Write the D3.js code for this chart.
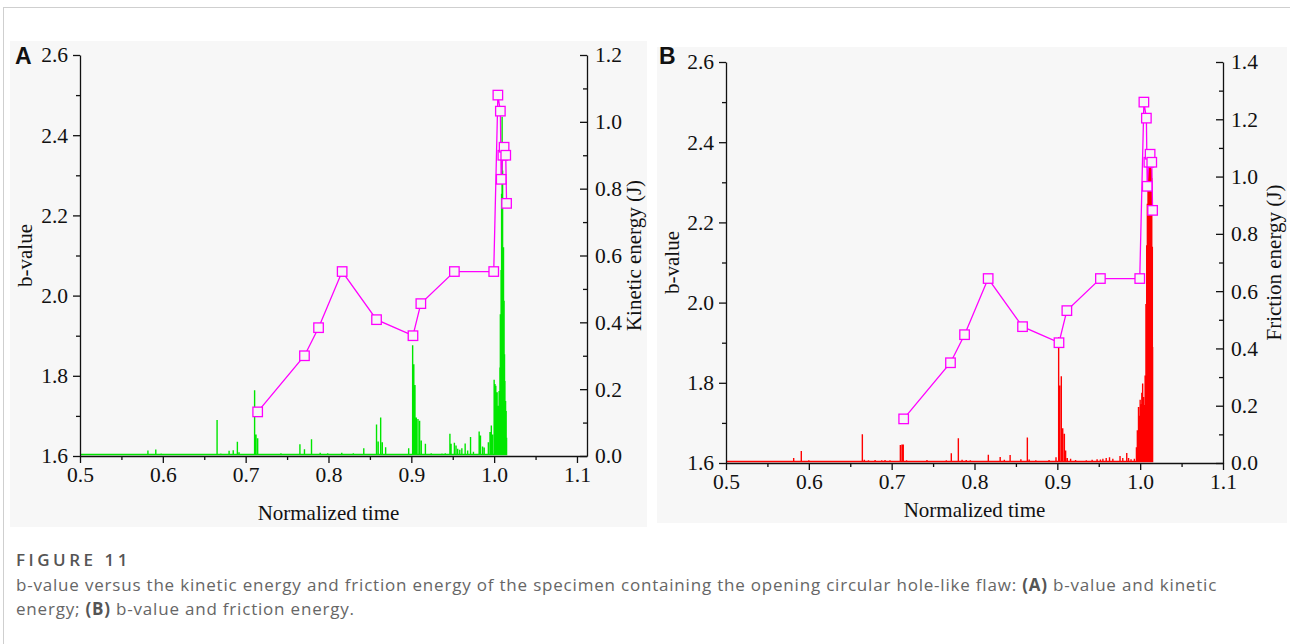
<!DOCTYPE html>
<html lang="en">
<head>
<meta charset="UTF-8">
<title>Figure 11</title>
<script src="https://cdn.jsdelivr.net/npm/d3@7"></script>
<style>
	body { margin: 0; background: #fff; }
	.axis path, .axis line { stroke: #111; stroke-width: 1.3; }
</style>
</head>
<body>
<svg id="fig" width="1290" height="644"></svg>
<script>
// b-value (same window values in both panels)
const bTime = [0.7145, 0.771, 0.788, 0.8165, 0.858, 0.902, 0.9115, 0.952, 0.9995,
	1.0045, 1.0075, 1.0085, 1.0105, 1.0120, 1.0140, 1.0150];
const bValue = [1.71, 1.85, 1.92, 2.06, 1.94, 1.90, 1.98, 2.06, 2.06,
	2.50, 2.46, 2.29, 2.35, 2.37, 2.35, 2.23];

// kinetic energy events (A)
const keTime = [0.582, 0.5915, 0.598, 0.6655, 0.670, 0.680, 0.685, 0.690, 0.692,
	0.7108, 0.7125, 0.7145, 0.7426, 0.7655, 0.771, 0.7795, 0.790, 0.799, 0.816, 0.830,
	0.8426, 0.858, 0.860, 0.863, 0.865, 0.869, 0.8968, 0.9016, 0.903, 0.9044, 0.906,
	0.908, 0.910, 0.912, 0.917, 0.924, 0.937, 0.941, 0.9466, 0.948, 0.952, 0.954,
	0.956, 0.9585, 0.961, 0.965, 0.968, 0.9715, 0.975, 0.9819, 0.9835, 0.986, 0.988,
	0.993, 0.995, 0.9966, 0.998, 1.000, 1.001, 1.002, 1.003, 1.0036, 1.0045, 1.005,
	1.006, 1.007, 1.0075, 1.0084, 1.009, 1.0096, 1.0102, 1.0108, 1.0113, 1.012,
	1.0125, 1.013, 1.0138, 1.0145, 1.015];
const keValue = [0.012, 0.015, 0.003, 0.103, 0.003, 0.011, 0.013, 0.038, 0.007,
	0.192, 0.060, 0.049, 0.004, 0.031, 0.016, 0.046, 0.005, 0.004, 0.005, 0.004,
	0.019, 0.090, 0.039, 0.111, 0.037, 0.022, 0.019, 0.327, 0.270, 0.208, 0.111,
	0.106, 0.101, 0.042, 0.032, 0.004, 0.003, 0.004, 0.062, 0.032, 0.035, 0.027,
	0.017, 0.014, 0.019, 0.033, 0.012, 0.052, 0.008, 0.069, 0.057, 0.024, 0.021,
	0.037, 0.067, 0.087, 0.060, 0.224, 0.211, 0.206, 0.150, 0.186, 0.120, 0.146,
	0.190, 0.260, 0.420, 0.552, 0.780, 1.011, 0.850, 0.459, 0.620, 0.460,
	0.300, 0.220, 0.160, 0.130, 0.050];

// friction energy events (B)
const feTime = [0.5817, 0.5909, 0.600, 0.6646, 0.667, 0.672, 0.680, 0.688, 0.692,
	0.698, 0.7105, 0.7125, 0.714, 0.718, 0.7426, 0.766, 0.772, 0.7805, 0.785, 0.790,
	0.795, 0.8167, 0.831, 0.836, 0.843, 0.856, 0.8638, 0.866, 0.874, 0.890, 0.8984,
	0.9016, 0.9028, 0.9048, 0.9058, 0.9065, 0.9085, 0.910, 0.912, 0.916, 0.922,
	0.935, 0.942, 0.948, 0.952, 0.955, 0.959, 0.963, 0.967, 0.9757, 0.979, 0.9838,
	0.986, 0.989, 0.993, 0.9955, 0.9966, 0.998, 0.999, 1.000, 1.001, 1.002, 1.003,
	1.004, 1.0047, 1.0055, 1.006, 1.007, 1.0079, 1.0087, 1.0095, 1.0103, 1.011,
	1.0118, 1.0127, 1.0135, 1.014, 1.0147, 1.015];
const feValue = [0.012, 0.037, 0.004, 0.095, 0.006, 0.004, 0.005, 0.004, 0.005,
	0.004, 0.058, 0.059, 0.059, 0.004, 0.005, 0.004, 0.029, 0.081, 0.006, 0.005,
	0.004, 0.024, 0.016, 0.006, 0.023, 0.008, 0.084, 0.007, 0.004, 0.005, 0.015,
	0.434, 0.265, 0.298, 0.114, 0.116, 0.097, 0.038, 0.012, 0.010, 0.005,
	0.004, 0.006, 0.008, 0.007, 0.010, 0.012, 0.015, 0.010, 0.019, 0.012, 0.030,
	0.012, 0.008, 0.010, 0.050, 0.109, 0.190, 0.160, 0.216, 0.200, 0.240, 0.272,
	0.225, 0.197, 0.140, 0.300, 0.550, 0.755, 0.900, 1.011, 1.050, 1.089,
	1.080, 1.075, 1.020, 0.990, 0.750, 0.400];

const xTicks = [0.5, 0.6, 0.7, 0.8, 0.9, 1.0, 1.1];
const xMinor = [0.55, 0.65, 0.75, 0.85, 0.95, 1.05];
const bTicks = [1.6, 1.8, 2.0, 2.2, 2.4, 2.6];
const bMinor = [1.7, 1.9, 2.1, 2.3, 2.5];

const svg = d3.select('#fig');
const serif = '"Liberation Serif", serif';

// page frame lines
svg.append('line').attr('x1', 3).attr('x2', 1290).attr('y1', 7.5).attr('y2', 7.5).attr('stroke', '#cfcfcf');
svg.append('line').attr('x1', 3.5).attr('x2', 3.5).attr('y1', 7).attr('y2', 644).attr('stroke', '#cfcfcf');

function styleAxis(sel) {
	sel.attr('font-family', serif).attr('font-size', 21.5);
	sel.selectAll('text').attr('fill', '#111');
}

function drawPanel(p) {
	const g = svg.append('g');
	g.append('rect').attr('x', p.bg[0]).attr('y', p.bg[1]).attr('width', p.bg[2]).attr('height', p.bg[3])
		.attr('fill', '#f7f7f7');

	const x = d3.scaleLinear().domain([0.5, p.xEnd]).range([p.left, p.right]);
	const yB = d3.scaleLinear().domain([1.6, 2.6]).range([p.bottom, p.top]);
	const yE = d3.scaleLinear().domain([0, p.eMax]).range([p.bottom, p.top]);

	// energy spikes
	const pts = [[0.5, 0]];
	p.eTime.forEach((t, i) => { pts.push([t, 0], [t, p.eValue[i]], [t, 0]); });
	g.append('path')
		.attr('d', d3.line().x(d => x(d[0])).y(d => yE(d[1]))(pts))
		.attr('transform', 'translate(0,-1.5)')
		.attr('fill', 'none').attr('stroke', p.color).attr('stroke-width', 1.4);

	// axes
	g.append('g').attr('class', 'axis').attr('transform', `translate(0,${p.bottom})`)
		.call(d3.axisBottom(x).tickValues(xTicks).tickFormat(d3.format('.1f')).tickSize(7).tickSizeOuter(0).tickPadding(4))
		.call(styleAxis);
	g.append('g').attr('class', 'axis').attr('transform', `translate(0,${p.bottom})`)
		.call(d3.axisBottom(x).tickValues(xMinor).tickFormat('').tickSize(4).tickSizeOuter(0))
		.select('.domain').remove();
	g.append('g').attr('class', 'axis').attr('transform', `translate(${p.left},0)`)
		.call(d3.axisLeft(yB).tickValues(bTicks).tickFormat(d3.format('.1f')).tickSize(7).tickSizeOuter(0).tickPadding(5))
		.call(styleAxis);
	g.append('g').attr('class', 'axis').attr('transform', `translate(${p.left},0)`)
		.call(d3.axisLeft(yB).tickValues(bMinor).tickFormat('').tickSize(4).tickSizeOuter(0))
		.select('.domain').remove();
	g.append('g').attr('class', 'axis').attr('transform', `translate(${p.right},0)`)
		.call(d3.axisRight(yE).tickValues(p.eTicks).tickFormat(d3.format('.1f')).tickSize(-7).tickSizeOuter(0).tickPadding(8))
		.call(styleAxis);
	g.append('g').attr('class', 'axis').attr('transform', `translate(${p.right},0)`)
		.call(d3.axisRight(yE).tickValues(p.eMinor).tickFormat('').tickSize(-4).tickSizeOuter(0))
		.select('.domain').remove();

	// b-value line with open squares
	g.append('path')
		.attr('d', d3.line().x((d, i) => x(bTime[i])).y(d => yB(d))(bValue))
		.attr('fill', 'none').attr('stroke', '#ff00ff').attr('stroke-width', 1.3);
	g.selectAll('rect.sq').data(bValue).join('rect').attr('class', 'sq')
		.attr('x', (d, i) => x(bTime[i]) - 4.75).attr('y', d => yB(d) - 4.75)
		.attr('width', 9.5).attr('height', 9.5)
		.attr('fill', '#f7f7f7').attr('stroke', '#ff00ff').attr('stroke-width', 1.3);

	// titles
	const mid = (x(0.5) + x(1.1)) / 2;
	g.append('text').attr('x', mid).attr('y', p.xTitleY).attr('text-anchor', 'middle')
		.attr('font-family', serif).attr('font-size', 21).attr('fill', '#111').text('Normalized time');
	const ym = (p.top + p.bottom) / 2;
	g.append('text').attr('transform', `translate(${p.bLabelX},${ym}) rotate(-90)`).attr('text-anchor', 'middle')
		.attr('font-family', serif).attr('font-size', 21).attr('fill', '#111').text('b-value');
	g.append('text').attr('transform', `translate(${p.eLabelX},${ym}) rotate(-90)`).attr('text-anchor', 'middle')
		.attr('font-family', serif).attr('font-size', 21).attr('fill', '#111').text(p.eLabel);
	g.append('text').attr('x', p.letter[0]).attr('y', p.letter[1])
		.attr('font-family', '"Liberation Sans", Arial, sans-serif').attr('font-weight', 'bold')
		.attr('font-size', 23).attr('fill', '#111').text(p.name);
}

drawPanel({
	name: 'A', letter: [15, 64], bg: [10, 41, 637, 486],
	left: 80, right: 587, xEnd: 1.1121, top: 55, bottom: 456, xTitleY: 520,
	eMax: 1.2, eTicks: [0, 0.2, 0.4, 0.6, 0.8, 1.0, 1.2], eMinor: [0.1, 0.3, 0.5, 0.7, 0.9, 1.1],
	eTime: keTime, eValue: keValue, color: '#00e600',
	bLabelX: 32, eLabelX: 641, eLabel: 'Kinetic energy (J)'
});

drawPanel({
	name: 'B', letter: [659, 64], bg: [657, 47, 630, 476],
	left: 726, right: 1223, xEnd: 1.1, top: 62, bottom: 463, xTitleY: 517,
	eMax: 1.4, eTicks: [0, 0.2, 0.4, 0.6, 0.8, 1.0, 1.2, 1.4], eMinor: [0.1, 0.3, 0.5, 0.7, 0.9, 1.1, 1.3],
	eTime: feTime, eValue: feValue, color: '#ff0000',
	bLabelX: 679, eLabelX: 1281, eLabel: 'Friction energy (J)'
});

// caption
const cap = svg.append('g').attr('font-family', '"Open Sans", sans-serif');
cap.append('text').attr('x', 16).attr('y', 566).attr('font-size', 17).attr('font-weight', 600)
	.attr('letter-spacing', 3.5).attr('fill', '#555').text('FIGURE 11');
const l1 = cap.append('text').attr('x', 16).attr('y', 591).attr('font-size', 17)
	.attr('letter-spacing', 0.8).attr('fill', '#666');
l1.append('tspan').text('b-value versus the kinetic energy and friction energy of the specimen containing the opening circular hole-like flaw: ');
l1.append('tspan').attr('font-weight', 'bold').attr('fill', '#555').text('(A)');
l1.append('tspan').text(' b-value and kinetic');
const l2 = cap.append('text').attr('x', 16).attr('y', 615).attr('font-size', 17)
	.attr('letter-spacing', 0.8).attr('fill', '#666');
l2.append('tspan').text('energy; ');
l2.append('tspan').attr('font-weight', 'bold').attr('fill', '#555').text('(B)');
l2.append('tspan').text(' b-value and friction energy.');
</script>
</body>
</html>
